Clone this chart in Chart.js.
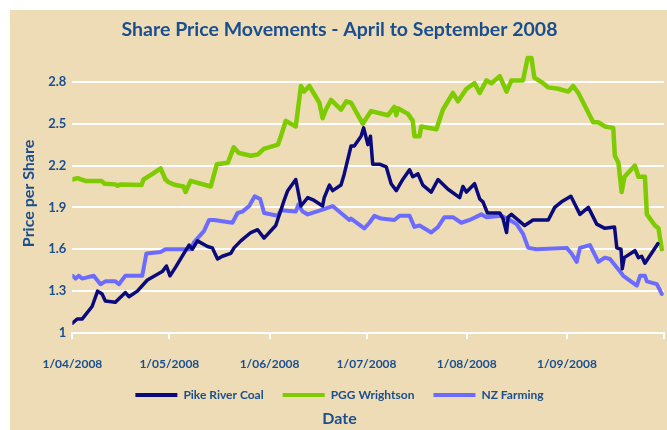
<!DOCTYPE html>
<html lang="en">
<head>
    <meta charset="UTF-8">
    <title>Share Price Movements - April to September 2008</title>
    <script src="https://cdn.jsdelivr.net/npm/chart.js"></script>
    <style>
        body { margin: 0; background: #fff; }
        #panel { position: absolute; left: 10px; top: 10px; width: 657px; height: 420px; background: #eddcb6; }
    </style>
</head>
<body>
    <div id="panel">
        <canvas id="myChart" width="657" height="420"></canvas>
    </div>

    <script>
        // days counted from 1/04/2008
        var monthTicks = [0, 30, 61, 91, 122, 153, 183];
        var monthLabels = ['1/04/2008', '1/05/2008', '1/06/2008', '1/07/2008', '1/08/2008', '1/09/2008', ''];
        var priceTicks = [1, 1.3, 1.6, 1.9, 2.2, 2.5, 2.8];

        var pikeDays = [0, 1.5, 3, 6.1, 7.8, 9.2, 10.2, 13.3, 16.4, 17.5, 20.1, 23.2, 27.8, 29.1, 30.2, 31.9, 34.5, 36.1, 37.1, 38.7,
            41.8, 43.3, 44.9, 46.4, 49, 50, 52.1, 55.2, 57.3, 59.3, 62.9, 65.5, 66.6, 69.1, 70.7, 72.8, 74.8, 77.4, 77.9, 79.5,
            80.5, 83.1, 84.1, 86.2, 87.2, 89.3, 90.1, 91.4, 92.2, 92.9, 95, 97.1, 98.6, 100.2, 102.2, 104.3, 105.3, 106.9, 108.4, 111,
            113.1, 116.2, 119.8, 120.8, 121.9, 124.4, 126, 127, 128.4, 132.2, 133.2, 134.3, 134.8, 135.8, 139.9, 142.5, 147.2, 149.2, 151.3, 154.2,
            157, 159.6, 162.2, 164.7, 167.7, 168.4, 169.7, 170.1, 170.7, 174, 175.1, 176.1, 177.1, 181.1];
        var pikePrice = [1.07, 1.10, 1.10, 1.19, 1.30, 1.28, 1.23, 1.22, 1.29, 1.26, 1.30, 1.38, 1.44, 1.48, 1.41, 1.47, 1.57, 1.63, 1.60, 1.66,
            1.62, 1.61, 1.53, 1.55, 1.57, 1.61, 1.66, 1.72, 1.74, 1.68, 1.77, 1.95, 2.02, 2.10, 1.91, 1.97, 1.95, 1.91, 1.97, 2.06,
            2.02, 2.06, 2.14, 2.34, 2.34, 2.41, 2.47, 2.35, 2.41, 2.21, 2.21, 2.19, 2.07, 2.02, 2.10, 2.17, 2.12, 2.14, 2.06, 2.01,
            2.10, 2.03, 1.97, 2.05, 2.01, 2.07, 1.96, 1.94, 1.86, 1.86, 1.82, 1.72, 1.83, 1.85, 1.77, 1.81, 1.81, 1.90, 1.94, 1.98,
            1.85, 1.90, 1.78, 1.75, 1.76, 1.61, 1.60, 1.46, 1.54, 1.59, 1.54, 1.55, 1.50, 1.64];

        var pggDays = [0, 1.6, 4, 9, 10, 13.3, 14, 15, 21.4, 22, 24.8, 27.3, 28.8, 29.8, 31.9, 34.4, 35, 36.6, 42.8, 44.7,
            48.1, 49.9, 51.5, 55.2, 57.4, 59.2, 63.6, 64.5, 66, 69.1, 70.7, 71.7, 73.3, 76.4, 77.4, 78.4, 80, 83.1, 84.7, 86.2,
            89.8, 92.4, 97.6, 99.6, 100.2, 100.7, 103.8, 105.3, 105.8, 107.4, 107.9, 112.6, 114.6, 117.7, 119.3, 121.9, 124.4, 126, 128.1, 129.6,
            132.2, 134.3, 135.8, 139.4, 140.8, 142, 142.9, 145.6, 147.2, 150.3, 153.4, 154.9, 156.5, 161.1, 162.7, 164.7, 167.3, 167.8, 168.9, 169.9,
            170.8, 174, 175.1, 177.1, 177.7, 180.2, 181.3, 182.3];
        var pggPrice = [2.10, 2.11, 2.09, 2.09, 2.07, 2.065, 2.055, 2.065, 2.06, 2.10, 2.14, 2.18, 2.10, 2.08, 2.06, 2.05, 2.01, 2.09, 2.05, 2.21,
            2.22, 2.33, 2.29, 2.27, 2.28, 2.32, 2.35, 2.41, 2.52, 2.48, 2.77, 2.73, 2.77, 2.65, 2.54, 2.60, 2.67, 2.60, 2.66, 2.65,
            2.50, 2.59, 2.56, 2.62, 2.56, 2.61, 2.57, 2.52, 2.41, 2.41, 2.48, 2.46, 2.60, 2.72, 2.66, 2.75, 2.79, 2.72, 2.81, 2.79,
            2.84, 2.73, 2.81, 2.81, 2.97, 2.97, 2.83, 2.79, 2.76, 2.75, 2.73, 2.77, 2.72, 2.51, 2.51, 2.48, 2.47, 2.27, 2.22, 2.01,
            2.12, 2.20, 2.12, 2.12, 1.85, 1.77, 1.75, 1.60];

        var nzfDays = [0, 1, 2, 3, 6.6, 8.7, 10.2, 13.3, 14.4, 16.4, 19.5, 21.6, 22.9, 27.3, 28.8, 36.6, 37.6, 40.7, 42.3, 43.8,
            49.5, 51.1, 52.6, 54.7, 56.4, 58.1, 59.3, 63.5, 64.5, 69.1, 69.9, 71.2, 72.8, 76.9, 80.5, 84.1, 85.7, 86.2, 90.3, 91.9,
            93.4, 95.5, 99.6, 101.2, 104.3, 105.8, 107.4, 111, 113.1, 115.1, 117.7, 120.3, 122.9, 126.5, 128.1, 132.7, 135.3, 137.4, 139.4, 141,
            143.6, 152.9, 154.4, 156, 157, 160.1, 162.7, 164.7, 166.3, 169.4, 170.4, 174.6, 175.6, 177.1, 177.7, 180.8, 182.3];
        var nzfPrice = [1.41, 1.39, 1.41, 1.39, 1.41, 1.35, 1.37, 1.37, 1.35, 1.41, 1.41, 1.41, 1.57, 1.58, 1.60, 1.60, 1.65, 1.73, 1.81, 1.81,
            1.79, 1.86, 1.87, 1.91, 1.98, 1.96, 1.86, 1.84, 1.88, 1.87, 1.92, 1.87, 1.85, 1.88, 1.91, 1.84, 1.81, 1.82, 1.75, 1.79,
            1.84, 1.82, 1.81, 1.84, 1.84, 1.76, 1.77, 1.72, 1.76, 1.83, 1.83, 1.79, 1.81, 1.85, 1.83, 1.84, 1.81, 1.78, 1.71, 1.61,
            1.60, 1.61, 1.57, 1.51, 1.61, 1.63, 1.51, 1.54, 1.53, 1.44, 1.41, 1.34, 1.41, 1.41, 1.37, 1.35, 1.28];

        var textBlue = '#1a4e8f';

        function toPoints(days, prices) {
            return days.map(function (d, i) { return { x: d, y: prices[i] }; });
        }

        Chart.defaults.font.family = 'Lato';
        Chart.defaults.font.weight = 'bold';
        Chart.defaults.color = textBlue;

        var ctx01 = document.getElementById('myChart');
        var chart01 = new Chart(ctx01, {
            type: 'line',
            data: {
                datasets: [{
                    label: 'Pike River Coal',
                    data: toPoints(pikeDays, pikePrice),
                    borderColor: '#0a0a7d',
                    backgroundColor: '#0a0a7d',
                    borderWidth: 3.5
                }, {
                    label: 'PGG Wrightson',
                    data: toPoints(pggDays, pggPrice),
                    borderColor: '#7dcb00',
                    backgroundColor: '#7dcb00',
                    borderWidth: 4.5
                }, {
                    label: 'NZ Farming',
                    data: toPoints(nzfDays, nzfPrice),
                    borderColor: '#6b6bff',
                    backgroundColor: '#6b6bff',
                    borderWidth: 4
                }]
            },
            options: {
                responsive: false,
                animation: false,
                layout: { padding: { left: 5, right: 3, top: 0, bottom: 0 } },
                elements: {
                    point: { radius: 0 },
                    line: { tension: 0, borderJoinStyle: 'round', borderCapStyle: 'round' }
                },
                plugins: {
                    title: {
                        display: true,
                        text: 'Share Price Movements - April to September 2008',
                        font: { size: 19.5, weight: 'bold' },
                        color: textBlue,
                        padding: { top: 8.5, bottom: 12 }
                    },
                    subtitle: {
                        display: true,
                        position: 'bottom',
                        text: 'Date',
                        font: { size: 16, weight: 'bold', lineHeight: 1 },
                        color: textBlue,
                        padding: { top: 0, bottom: 3 }
                    },
                    legend: {
                        position: 'bottom',
                        labels: {
                            boxWidth: 42,
                            boxHeight: 4,
                            padding: 19,
                            font: { size: 12, weight: 'bold', lineHeight: 1 },
                            color: textBlue,
                            generateLabels: function (chart) {
                                var items = Chart.defaults.plugins.legend.labels.generateLabels(chart);
                                items.forEach(function (it) { it.lineWidth = 0; });
                                return items;
                            }
                        }
                    },
                    tooltip: { enabled: false }
                },
                scales: {
                    x: {
                        type: 'linear',
                        min: 0,
                        max: 183,
                        afterBuildTicks: function (axis) {
                            axis.ticks = monthTicks.map(function (v) { return { value: v }; });
                        },
                        ticks: {
                            autoSkip: false,
                            maxRotation: 0,
                            padding: 0,
                            font: { size: 12, weight: 'bold', lineHeight: 1 },
                            color: textBlue,
                            callback: function (value) {
                                var k = monthTicks.indexOf(value);
                                return k >= 0 ? monthLabels[k] : '';
                            }
                        },
                        grid: {
                            drawOnChartArea: false,
                            drawTicks: true,
                            tickLength: 25,
                            tickBorderDash: [5, 40],
                            color: '#ffffff',
                            lineWidth: 2
                        },
                        border: { display: true, color: '#ffffff', width: 2 }
                    },
                    y: {
                        min: 1,
                        max: 3,
                        afterBuildTicks: function (axis) {
                            axis.ticks = priceTicks.map(function (v) { return { value: v }; });
                        },
                        ticks: {
                            padding: 6,
                            font: { size: 13, weight: 'bold' },
                            color: textBlue,
                            callback: function (value) { return String(value); }
                        },
                        grid: { color: '#ffffff', lineWidth: 2, drawTicks: false },
                        border: { display: false },
                        title: {
                            display: true,
                            text: 'Price per Share',
                            font: { size: 16, weight: 'bold' },
                            color: textBlue,
                            padding: 4
                        }
                    }
                }
            }
        });
    </script>
</body>
</html>
